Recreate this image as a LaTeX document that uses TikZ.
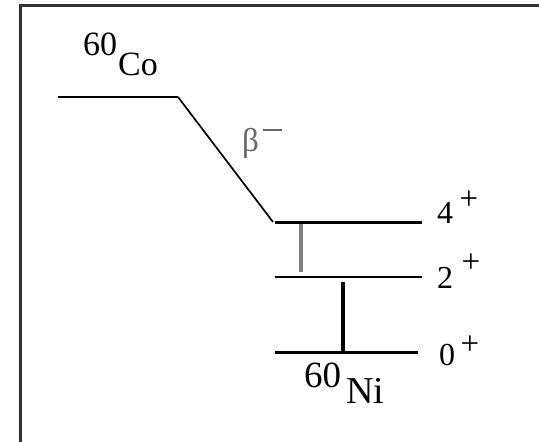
\documentclass[tikz,border=0pt]{standalone}
\usepackage{fontspec}
\setmainfont{Liberation Serif}
\begin{document}
\begin{tikzpicture}[x=1pt,y=-1pt,
  lbl/.style={inner sep=0pt,anchor=base west},
  level/.style={line width=3pt,black},
  thinlevel/.style={line width=2.2pt,black},
  framestyle/.style={line width=2.8pt,black!80},
  gammagray/.style={line width=3.2pt,black!50},
  gammablack/.style={line width=3.2pt,black},
  decay/.style={line width=1.7pt,black}]
\useasboundingbox (0,0) rectangle (539,442);
% frame
\coordinate (fb) at (20.5,442);
\coordinate (fc) at (20.5,5.5);
\coordinate (fr) at (539,5.5);
\draw[framestyle] (fb) -- (fc) -- (fr);
% levels
\coordinate (co1) at (58,97);
\coordinate (co2) at (178,97);
\coordinate (l4a) at (273,222);
\coordinate (l4s) at (275,222);
\coordinate (l4b) at (422,222);
\coordinate (l2a) at (275,277);
\coordinate (l2b) at (422,277);
\coordinate (l0a) at (275,352.5);
\coordinate (l0b) at (418,352.5);
\draw[thinlevel] (co1) -- (co2);
\draw[decay] (co2) -- (l4a);
\draw[level] (l4s) -- (l4b);
\draw[thinlevel] (l2a) -- (l2b);
\draw[level] (l0a) -- (l0b);
% gamma transitions
\coordinate (g1t) at (301,224);
\coordinate (g1b) at (301,272);
\coordinate (g2t) at (343,282);
\coordinate (g2b) at (343,352);
\draw[gammagray] (g1t) -- (g1b);
\draw[gammablack] (g2t) -- (g2b);
% labels
\node[lbl] (co60) at (83,55) {\fontsize{34}{34}\selectfont 60};
\node[lbl] (co) at (118,75) {\fontsize{34}{34}\selectfont Co};
\node[lbl,text=black!60] (beta) at (242,151) {\fontsize{33}{33}\selectfont β};
\node[inner sep=0pt,text=black!60] (betaminus) at (272,130) {\rule{19pt}{1.3pt}};
\node[lbl] (s4) at (437,223) {\fontsize{32}{32}\selectfont 4};
\node[inner sep=0pt] (p4) at (469,200) {\fontsize{33}{33}\selectfont +};
\node[lbl] (s2) at (437,288) {\fontsize{32}{32}\selectfont 2};
\node[inner sep=0pt] (p2) at (471,263) {\fontsize{33}{33}\selectfont +};
\node[lbl] (s0) at (439,365) {\fontsize{32}{32}\selectfont 0};
\node[inner sep=0pt] (p0) at (470,345) {\fontsize{33}{33}\selectfont +};
\node[lbl] (ni60) at (304,387) {\fontsize{37}{37}\selectfont 60};
\node[lbl] (ni) at (346,403) {\fontsize{38}{38}\selectfont Ni};
\end{tikzpicture}
\end{document}
